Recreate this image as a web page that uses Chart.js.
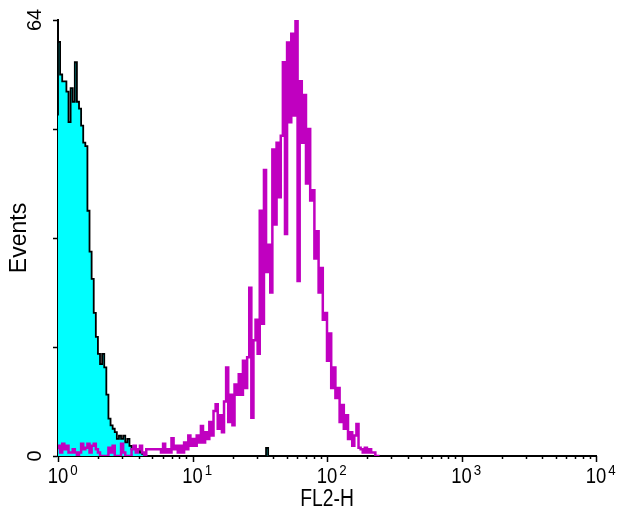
<!DOCTYPE html>
<html>
<head>
<meta charset="utf-8">
<script src="https://cdn.jsdelivr.net/npm/chart.js@4.4.1/dist/chart.umd.min.js"></script>
<style>
  html, body { margin: 0; padding: 0; background: #ffffff; }
  #wrap { width: 619px; height: 514px; }
</style>
</head>
<body>
<div id="wrap"><canvas id="c" width="619" height="514"></canvas></div>
<script>
// ---- data (histogram channels: 64 channels per decade, channel 0 starts at 10^0) ----
const channelsPerDecade = 64;

// cyan (control) histogram counts, channel 0 ..
const cyanCounts = [
  50, 60.8, 56, 55, 55, 53.5, 49, 54, 52, 57.8,
  52, 51, 48.5, 46, 45.5, 36, 30, 26, 21, 17.5,
  15, 13.5, 15, 13, 9, 5.5, 4.5, 4, 3.5, 2.5,
  3, 2.5, 3, 2, 2.5, 1.5, 1, 1.5, 1, 1,
  0.5, 0.3, 0, 0, 0, 0, 0, 0, 0, 0,
  0, 0, 0, 0, 0, 0, 0, 0, 0, 0,
  0, 0, 0, 0, 0, 0, 0, 0, 0, 0,
  0, 0, 0, 0, 0, 0, 0, 0, 0, 0,
  0, 0, 0, 0, 0, 0, 0, 0, 0, 0,
  0, 0, 0, 0, 0, 0, 0, 0, 0, 0,
  1.2, 0
];

// magenta (stained) histogram counts, channel 0 ..
const magentaCounts = [
  1, 1.5, 0.5, 1.8, 1, 1.5, 0.5, 0.5, 1, 0.5,
  0, 0.5, 1.8, 1, 1.2, 1.8, 0.5, 1.5, 1.8, 1,
  0.5, 0, 0, 0, 0, 1.2, 0.5, 1.5, 0, 0,
  0, 1.8, 0.5, 0, 0, 0, 1, 1.5, 0.5, 1,
  1.5, 0.5, 0, 1, 1, 1, 1, 1, 1, 1,
  0.5, 1.8, 0.5, 1, 0.5, 2.6, 1, 1.5, 0.5, 1.5,
  0.5, 2, 1, 3, 1.5, 2.5, 1.5, 3, 2, 4.4,
  2, 3.5, 2.5, 5, 3, 6.6, 7.6, 4, 6, 3.5,
  8, 13, 5, 9, 4.5, 10.5, 9, 12, 9, 14,
  10, 14.5, 24.7, 5.6, 17, 20, 15, 36, 19.4, 42,
  27, 31, 24, 45, 34, 46, 38, 47, 57.8, 32.6,
  60.7, 49, 62, 50, 64, 25.7, 55, 46, 53, 40,
  48, 37.5, 39, 29, 33, 24, 27.6, 20, 21, 14,
  18, 10, 13, 8.5, 10, 5, 7.5, 4, 6, 2.5,
  3.5, 1.5, 3, 4.7, 1.2, 1, 0.5, 1.2, 0.5, 1,
  0.5, 0.5, 0
];

const xDecadeValues = [1, 10, 100, 1000, 10000];
const xDecadeBase = '10';
const xDecadeExponents = ['0', '1', '2', '3', '4'];
const xTickValues = [
  1, 2, 3, 4, 5, 6, 7, 8, 9,
  10, 20, 30, 40, 50, 60, 70, 80, 90,
  100, 200, 300, 400, 500, 600, 700, 800, 900,
  1000, 2000, 3000, 4000, 5000, 6000, 7000, 8000, 9000,
  10000
];
const yTickValues = [0, 16, 32, 48, 64];
const yTickLabels = ['0', '', '', '', '64'];
const xTitle = 'FL2-H';
const yTitle = 'Events';

const FONT = "'Liberation Sans', Arial, Helvetica, sans-serif";
const SQUEEZE = 0.84; // horizontal narrowing of the x-axis texts

// build stepped points: each channel spans [10^(c/64), 10^((c+1)/64)]
function toPoints(counts) {
  const pts = counts.map((v, c) => ({ x: Math.pow(10, c / channelsPerDecade), y: v }));
  pts.push({ x: Math.pow(10, counts.length / channelsPerDecade), y: 0 });
  return pts;
}

// x-axis tick marks (long at decades, short between) and x-axis texts
const xAxisDecor = {
  id: 'xAxisDecor',
  afterDraw(chart) {
    const sx = chart.scales.x;
    const ctx = chart.ctx;
    const y0 = sx.top;
    ctx.save();
    ctx.strokeStyle = '#000000';
    ctx.lineWidth = 1.5;
    xTickValues.forEach(v => {
      const px = Math.round(sx.getPixelForValue(v)) + 0.5;
      const len = xDecadeValues.includes(v) ? 6 : 3;
      ctx.beginPath();
      ctx.moveTo(px, y0);
      ctx.lineTo(px, y0 + len);
      ctx.stroke();
    });

    ctx.fillStyle = '#000000';
    ctx.textBaseline = 'alphabetic';
    ctx.textAlign = 'left';
    xDecadeValues.forEach((v, i) => {
      const px = sx.getPixelForValue(v);
      ctx.font = '22px ' + FONT;
      const w = ctx.measureText(xDecadeBase).width * SQUEEZE;
      ctx.save();
      ctx.translate(px - w / 2, y0 + 27);
      ctx.scale(SQUEEZE, 1);
      ctx.fillText(xDecadeBase, 0, 0);
      ctx.restore();
      ctx.font = '14px ' + FONT;
      ctx.save();
      ctx.translate(px + w / 2 + 2, y0 + 18.5);
      ctx.scale(0.95, 1);
      ctx.fillText(xDecadeExponents[i], 0, 0);
      ctx.restore();
    });

    // x-axis title
    ctx.font = '23px ' + FONT;
    const tw = ctx.measureText(xTitle).width * SQUEEZE;
    const cx = (sx.left + sx.right) / 2;
    ctx.save();
    ctx.translate(cx - tw / 2, 506);
    ctx.scale(SQUEEZE, 1);
    ctx.fillText(xTitle, 0, 0);
    ctx.restore();
    ctx.restore();
  }
};

new Chart(document.getElementById('c'), {
  type: 'line',
  data: {
    datasets: [
      {
        label: 'stained',
        data: toPoints(magentaCounts),
        stepped: 'after',
        borderColor: '#C000C0',
        borderWidth: 2.5,
        pointRadius: 0,
        fill: false,
        order: 0
      },
      {
        label: 'control',
        data: toPoints(cyanCounts),
        stepped: 'after',
        borderColor: '#000000',
        borderWidth: 1.8,
        backgroundColor: '#00FFFF',
        pointRadius: 0,
        fill: 'origin',
        order: 1
      }
    ]
  },
  options: {
    responsive: false,
    animation: false,
    devicePixelRatio: 1,
    layout: { padding: { top: 20, right: 23, left: 0, bottom: 0 } },
    plugins: { legend: { display: false }, tooltip: { enabled: false } },
    scales: {
      x: {
        type: 'logarithmic',
        min: 1,
        max: 10000,
        afterBuildTicks: (s) => { s.ticks = xTickValues.map(v => ({ value: v })); },
        afterFit: (s) => { s.height = 58; },
        grid: { display: false, drawTicks: false },
        border: { display: true, color: '#000000', width: 2 },
        ticks: { display: false, autoSkip: false, maxRotation: 0 },
        title: { display: false }
      },
      y: {
        type: 'linear',
        min: 0,
        max: 64,
        afterBuildTicks: (s) => { s.ticks = yTickValues.map(v => ({ value: v })); },
        afterFit: (s) => { s.width = 58; },
        grid: { drawOnChartArea: false, drawTicks: true, tickLength: 5, tickColor: '#000000', tickWidth: 1.5 },
        border: { display: true, color: '#000000', width: 2 },
        ticks: {
          autoSkip: false,
          minRotation: 90,
          maxRotation: 90,
          crossAlign: 'center',
          padding: 6,
          color: '#000000',
          font: { family: FONT, size: 20 },
          callback: (v) => {
            const i = yTickValues.indexOf(v);
            return i >= 0 ? yTickLabels[i] : '';
          }
        },
        title: {
          display: true,
          text: yTitle,
          color: '#000000',
          font: { family: FONT, size: 23, lineHeight: 1 },
          padding: { top: 8, bottom: 0 }
        }
      }
    }
  },
  plugins: [xAxisDecor]
});
</script>
</body>
</html>
